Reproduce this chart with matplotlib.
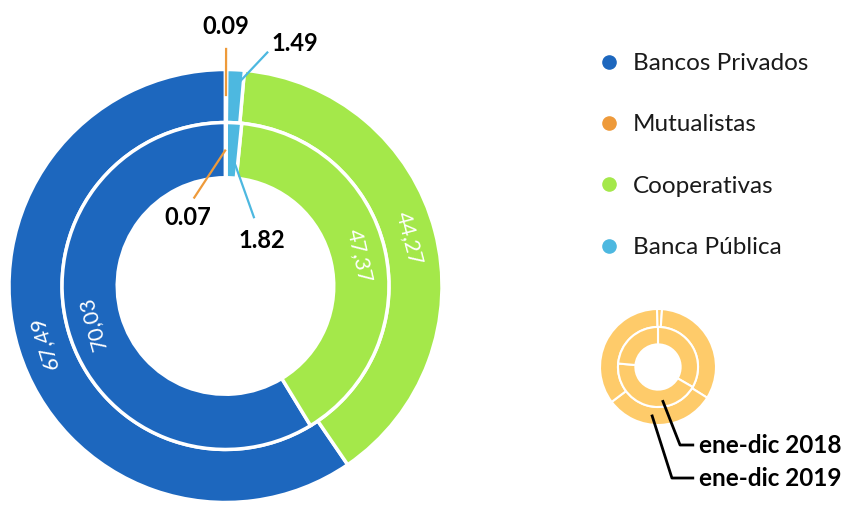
import numpy as np
import matplotlib
matplotlib.use("Agg")
import matplotlib.pyplot as plt
from matplotlib.lines import Line2D

plt.rcParams['font.family'] = ['Lato', 'DejaVu Sans']

# data
categorias = ['Bancos Privados', 'Mutualistas', 'Cooperativas', 'Banca Pública']
colores = ['#1D67BE', '#EE9A3A', '#A4E84A', '#4DB8E0']
v2019 = [67.49, 0.09, 44.27, 1.49]   # anillo exterior (ene-dic 2019)
v2018 = [70.03, 0.07, 47.37, 1.82]   # anillo interior (ene-dic 2018)
periodos = ['ene-dic 2018', 'ene-dic 2019']

# slice order drawn counter-clockwise from the top
orden = [0, 2, 3, 1]

# small decorative icon (angles in degrees per slice)
icono_ext = [5, 118, 111, 126]
icono_int = [120, 155, 85]

fig = plt.figure(figsize=(8.51, 5.05), dpi=100)
R = 216.5
cx, cy = 225.5, 505 - 286
ax = fig.add_axes([0, 0, 1, 1])

def polar(ang, r):
    a = np.radians(ang)
    return r * np.cos(a), r * np.sin(a)

wprops = dict(edgecolor='white', linewidth=2.5)
w_out, _ = ax.pie([v2019[i] for i in orden], colors=[colores[i] for i in orden],
                  radius=1.0, startangle=90, counterclock=True,
                  wedgeprops=dict(width=0.245, **wprops))
w_in, _ = ax.pie([v2018[i] for i in orden], colors=[colores[i] for i in orden],
                 radius=0.755, startangle=90, counterclock=True,
                 wedgeprops=dict(width=0.255, **wprops))
ax.set_xlim(-cx / R, (851 - cx) / R)
ax.set_ylim(-cy / R, (505 - cy) / R)
ax.set_aspect('equal')
ax.axis('off')

def mid(w):
    return (w.theta1 + w.theta2) / 2

# labels inside the rings (big slices)
for wedges, vals, rr in [(w_out, v2019, 0.877), (w_in, v2018, 0.635)]:
    for k, i in enumerate(orden):
        if i in (0, 2):
            m = mid(wedges[k])
            x, y = polar(m, rr)
            ax.text(x, y, f'{vals[i]:.2f}'.replace('.', ','), color='white',
                    fontsize=15.5, rotation=m - 90, rotation_mode='anchor',
                    ha='center', va='center')

# leader labels for small slices: (r_start, end angle, end r, text angle, text r)
pos = {(0, 1): (0.877, None, 1.10, None, 1.20),
       (0, 3): (0.92, 79.7, 1.10, 74.0, 1.165),
       (1, 1): (0.63, 110.0, 0.43, 119.0, 0.36),
       (1, 3): (0.60, 67.0, 0.34, 51.6, 0.27)}
for ring, (wedges, vals) in enumerate([(w_out, v2019), (w_in, v2018)]):
    for k, i in enumerate(orden):
        if i not in (1, 3):
            continue
        r0, a1, r1, a2, r2 = pos[(ring, i)]
        m = mid(wedges[k])
        a1 = m if a1 is None else a1
        a2 = m if a2 is None else a2
        x0, y0 = polar(m, r0)
        x1, y1 = polar(a1, r1)
        ax.plot([x0, x1], [y0, y1], color=colores[i], lw=1.6, solid_capstyle='butt')
        xt, yt = polar(a2, r2)
        ax.text(xt, yt, f'{vals[i]:.2f}', fontsize=17, fontweight='bold',
                ha='center', va='center', color='black')

# legend
handles = [Line2D([], [], marker='o', ls='none', color=c, markersize=9.5) for c in colores]
leg = ax.legend(handles, categorias, loc='upper left',
                bbox_to_anchor=(597 / 851, 1 - 53 / 505), frameon=False,
                fontsize=17.5, labelspacing=1.66, handlelength=1.0,
                handletextpad=0.48, borderpad=0, borderaxespad=0)
for t in leg.get_texts():
    t.set_color('#1a1a1a')

# icon
ic = fig.add_axes([600 / 851, 80 / 505, 116 / 851, 116 / 505])
ic.pie(icono_ext, colors=['#FECB6A'] * 4, radius=1.0, startangle=91, counterclock=False,
       wedgeprops=dict(width=0.31, edgecolor='white', linewidth=1.5))
ic.pie(icono_int, colors=['#FECB6A'] * 3, radius=0.69, startangle=90, counterclock=False,
       wedgeprops=dict(width=0.30, edgecolor='white', linewidth=1.5))
ic.set_xlim(-1, 1)
ic.set_ylim(-1, 1)
ic.set_aspect('equal')
ic.axis('off')

for (ang, r0, yb), txt in zip([(-81.8, 0.60, -1.345), (-96.8, 0.85, -1.914)], periodos):
    x0, y0 = polar(ang, r0)
    xb = 0.38 if yb > -1.5 else 0.24
    ic.plot([x0, xb, 0.60], [y0, yb, yb], color='black', lw=2, clip_on=False)
    ic.text(0.70, yb, txt, fontsize=17.5, fontweight='bold', ha='left', va='center',
            clip_on=False)

fig.savefig('out.png', dpi=100)
